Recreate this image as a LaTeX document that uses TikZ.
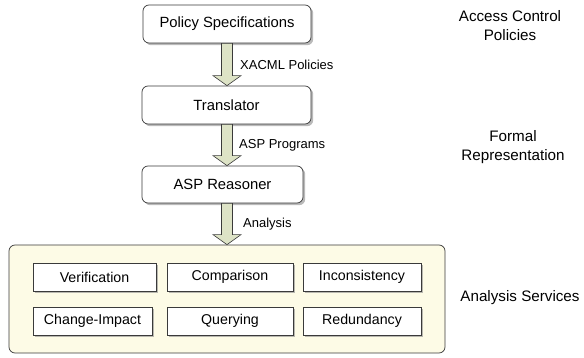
\documentclass[tikz,border=0pt]{standalone}
\usepackage{fontspec}
\setmainfont{Liberation Sans}
\usetikzlibrary{shadows,calc}
\definecolor{arrowfill}{HTML}{DDE3C6}
\definecolor{panelfill}{HTML}{FDFBE6}
\definecolor{edgecol}{HTML}{3A3A3A}
\tikzset{
  mainbox/.style={draw=edgecol, line width=0.7pt, fill=white, rounded corners=6pt,
    inner sep=0pt, font=\fontsize{14.8}{16}\selectfont,
    drop shadow={shadow xshift=2.2pt, shadow yshift=-2.2pt, fill=black!45, opacity=0.6}},
  svcbox/.style={draw=edgecol, line width=0.7pt, fill=white, inner sep=0pt,
    font=\fontsize{14.2}{15}\selectfont,
    drop shadow={shadow xshift=2.2pt, shadow yshift=-2.2pt, fill=black!45, opacity=0.6}},
  barrow/.style={draw=edgecol, line width=0.6pt, fill=arrowfill},
  arrlabel/.style={font=\fontsize{13}{14}\selectfont, anchor=west, inner sep=0pt},
  sidelabel/.style={font=\fontsize{15.2}{19}\selectfont, align=center, inner sep=0pt},
  panel/.style={draw=edgecol, line width=0.7pt, fill=panelfill, rounded corners=6pt}
}
\begin{document}
\begin{tikzpicture}[x=1pt,y=-1pt]
\useasboundingbox (0,0) rectangle (584,358);
% nodes
\node[mainbox, minimum width=168pt, minimum height=38pt] (ps) at (227,24) {Policy Specifications};
\node[mainbox, minimum width=169pt, minimum height=38pt] (tr) at (226.5,105) {Translator};
\node[mainbox, minimum width=161pt, minimum height=37pt] (asp) at (222.5,184.5) {ASP Reasoner};
% panel
\node[panel, minimum width=436pt, minimum height=108pt, inner sep=0pt] (pan) at (227,299) {};
% services
\node[svcbox, minimum width=123pt, minimum height=28pt] (ver) at (94.5,277) {Verification};
\node[svcbox, minimum width=126pt, minimum height=28pt] (cmp) at (230,277) {Comparison};
\node[svcbox, minimum width=118pt, minimum height=28pt] (inc) at (362,277) {Inconsistency};
\node[svcbox, minimum width=119pt, minimum height=28pt] (chg) at (92.5,321) {Change-Impact};
\node[svcbox, minimum width=126pt, minimum height=28pt] (qry) at (230,321) {Querying};
\node[svcbox, minimum width=118pt, minimum height=28pt] (red) at (362,321) {Redundancy};
% block arrows
\draw[barrow] let \p1=(ps.south), \p2=(tr.north), \p3=(ps.south) in
  (\x3-5.5pt,\y1) -- (\x3-5.5pt,\y2+10pt) -- (\x3-14pt,\y2+10pt) -- (\x3,\y2)
  -- (\x3+14pt,\y2+10pt) -- (\x3+5.5pt,\y2+10pt) -- (\x3+5.5pt,\y1) -- cycle;
\draw[barrow] let \p1=(tr.south), \p2=(asp.north), \p3=(ps.south) in
  (\x3-5.5pt,\y1) -- (\x3-5.5pt,\y2+10pt) -- (\x3-14pt,\y2+10pt) -- (\x3,\y2)
  -- (\x3+14pt,\y2+10pt) -- (\x3+5.5pt,\y2+10pt) -- (\x3+5.5pt,\y1) -- cycle;
\draw[barrow] let \p1=(asp.south), \p2=(pan.north), \p3=(ps.south) in
  (\x3-5.5pt,\y1) -- (\x3-5.5pt,\y2+10pt) -- (\x3-14pt,\y2+10pt) -- (\x3,\y2)
  -- (\x3+14pt,\y2+10pt) -- (\x3+5.5pt,\y2+10pt) -- (\x3+5.5pt,\y1) -- cycle;
% arrow labels
\node[arrlabel] (l1) at (240,65) {XACML Policies};
\node[arrlabel] (l2) at (239,145) {ASP Programs};
\node[arrlabel] (l3) at (243,224) {Analysis};
% side labels
\node[sidelabel] (s1) at (510,26) {Access Control\\Policies};
\node[sidelabel] (s2) at (513,147) {Formal\\Representation};
\node[sidelabel] (s3) at (520,298) {Analysis Services};
\end{tikzpicture}
\end{document}
